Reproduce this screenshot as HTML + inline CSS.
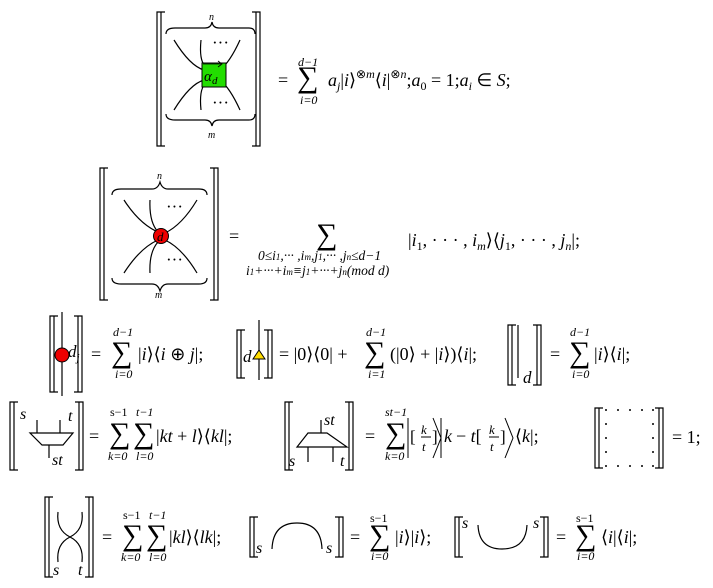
<!DOCTYPE html>
<html><head><meta charset="utf-8"><style>
html,body{margin:0;padding:0;background:#fff;}
svg{display:block;}
text{font-family:"Liberation Serif",serif;fill:#000;}
.i{font-style:italic;}
</style></head><body>
<svg width="713" height="588" viewBox="0 0 713 588" xmlns="http://www.w3.org/2000/svg">
<g stroke="#000" fill="none" stroke-width="1.2">
<path d="M165 12H157V146H165M161 12V146"/>
<path d="M252 12H260V146H252M256 12V146"/>
<path d="M166 34Q166 28 175 28H205Q211 28 212 22Q213 28 219 28H249Q255 28 255 34"/>
<path d="M166 114Q166 120 175 120H205Q211 120 212 126Q213 120 219 120H249Q255 120 255 114"/>
<path d="M174 40Q190 66 204 70M201 40Q199 60 205 66M240 40Q230 62 220 70"/>
<path d="M174 110Q190 84 204 80M201 110Q199 90 205 84M240 110Q230 88 220 80"/>
<path d="M108 168H100V300H108M104 168V300"/>
<path d="M210 168H218V300H210M214 168V300"/>
<path d="M112 195Q112 189 121 189H152Q158 189 160 182Q162 189 168 189H199Q207 189 207 195"/>
<path d="M112 278Q112 284 121 284H152Q158 284 160 291Q162 284 168 284H199Q207 284 207 278"/>
<path d="M124 200Q140 225 160 233M150 200Q149 222 158 232M197 200Q182 225 165 233"/>
<path d="M124 273Q140 248 158 240M150 273Q149 252 158 242M197 273Q182 248 165 240"/>
<path d="M58 316H50V392H58M54 316V392"/>
<path d="M74 316H82V392H74M78 316V392"/>
<path d="M62 312V396"/>
<path d="M245 330H237V378H245M241 330V378"/>
<path d="M264 330H272V378H264M268 330V378"/>
<path d="M259 320V380"/>
<path d="M516 325H508V385H516M512 325V385"/>
<path d="M533 325H541V385H533M537 325V385"/>
<path d="M518 325V378"/>
<path d="M18 402H10V470H18M14 402V470"/>
<path d="M75 402H83V470H75M79 402V470"/>
<path d="M30 433H73L63 445H42Z M37 420V433 M60 420V433 M49 445V458"/>
<path d="M293 402H285V470H293M289 402V470"/>
<path d="M345 402H353V470H345M349 402V470"/>
<path d="M308 433H327L347 447H297Z M321 420V433 M308 447V462 M333 447V462"/>
<path d="M603 408H595V468H603M599 408V468"/>
<path d="M655 408H663V468H655M659 408V468"/>
<path d="M53 497H45V577H53M49 497V577"/>
<path d="M85 497H93V577H85M89 497V577"/>
<path d="M58 512Q56 530 70 537Q84 530 82 512M58 562Q56 544 70 537Q84 544 82 562"/>
<path d="M258 517H250V557H258M254 517V557"/>
<path d="M335 517H343V557H335M339 517V557"/>
<path d="M272 549Q273 523 297 523Q321 523 322 549"/>
<path d="M463 517H455V557H463M459 517V557"/>
<path d="M540 517H548V557H540M544 517V557"/>
<path d="M478 525Q479 549 502 549Q526 549 527 525"/>
</g>
<rect x="202" y="63" width="24" height="24" fill="#22dd00" stroke="#000" stroke-width="1"/>
<text x="204" y="81" class="i" font-size="15">α</text><text x="212" y="84" class="i" font-size="11">d</text>
<path d="M203 64H221M218 61L222 64L218 67" stroke="#000" fill="none" stroke-width="0.8"/>
<circle cx="161" cy="236" r="7.5" fill="#ee0000" stroke="#000"/>
<text x="157" y="241" class="i" font-size="13">d</text>
<circle cx="62" cy="355" r="7" fill="#ee0000" stroke="#000"/>
<path d="M253 359L259 350L265 359Z" fill="#ffdd00" stroke="#000"/>
<g font-size="10" class="i">
<text x="209" y="20">n</text><text x="208" y="138">m</text>
<text x="157" y="179">n</text><text x="155" y="298">m</text>
</g>
<g font-size="17">
<text x="212" y="48">···</text><text x="212" y="108">···</text>
<text x="166" y="212">···</text><text x="166" y="265">···</text>
</g>
<text x="278" y="86" font-size="18">=</text>
<text x="297" y="87" font-size="30">∑</text>
<text x="298" y="66" font-size="12" class="i">d−1</text>
<text x="300" y="104" font-size="12" class="i">i=0</text>
<text x="328" y="86" font-size="18"><tspan class="i">a<tspan font-size="12" dy="4">j</tspan></tspan><tspan dy="-4">|</tspan><tspan class="i">i</tspan>⟩<tspan font-size="12" dy="-8">⊗<tspan class="i">m</tspan></tspan><tspan dy="8">⟨</tspan><tspan class="i">i</tspan>|<tspan font-size="12" dy="-8">⊗<tspan class="i">n</tspan></tspan><tspan dy="8">;</tspan><tspan class="i">a</tspan><tspan font-size="12" dy="4">0</tspan><tspan dy="-4"> = 1;</tspan><tspan class="i">a<tspan font-size="12" dy="4">i</tspan></tspan><tspan dy="-4"> ∈ </tspan><tspan class="i">S</tspan>;</text>
<text x="229" y="242" font-size="18">=</text>
<text x="316" y="244" font-size="30">∑</text>
<text x="258" y="260" font-size="13.5" class="i">0≤i<tspan font-size="9">1</tspan>,··· ,i<tspan font-size="9">m</tspan>,j<tspan font-size="9">1</tspan>,··· ,j<tspan font-size="9">n</tspan>≤d−1</text>
<text x="246" y="275" font-size="13.5" class="i">i<tspan font-size="9">1</tspan>+···+i<tspan font-size="9">m</tspan>≡j<tspan font-size="9">1</tspan>+···+j<tspan font-size="9">n</tspan>(mod d)</text>
<text x="408" y="246" font-size="18">|<tspan class="i">i</tspan><tspan font-size="12" dy="4">1</tspan><tspan dy="-4">, · · · , </tspan><tspan class="i">i</tspan><tspan font-size="12" class="i" dy="4">m</tspan><tspan dy="-4">⟩⟨</tspan><tspan class="i">j</tspan><tspan font-size="12" dy="4">1</tspan><tspan dy="-4">, · · · , </tspan><tspan class="i">j</tspan><tspan font-size="12" class="i" dy="4">n</tspan><tspan dy="-4">|;</tspan></text>
<text x="68" y="357" font-size="17" class="i">d<tspan font-size="11" dy="4">j</tspan></text>
<text x="91" y="360" font-size="18">=</text>
<text x="111" y="362" font-size="30">∑</text>
<text x="113" y="336" font-size="12" class="i">d−1</text>
<text x="115" y="378" font-size="12" class="i">i=0</text>
<text x="138" y="360" font-size="18">|<tspan class="i">i</tspan>⟩⟨<tspan class="i">i</tspan> ⊕ <tspan class="i">j</tspan>|;</text>
<text x="243" y="362" font-size="17" class="i">d</text>
<text x="279" y="360" font-size="18">= |0⟩⟨0| +</text>
<text x="364" y="362" font-size="30">∑</text>
<text x="366" y="336" font-size="12" class="i">d−1</text>
<text x="368" y="378" font-size="12" class="i">i=1</text>
<text x="390" y="360" font-size="18">(|0⟩ + |<tspan class="i">i</tspan>⟩)⟨<tspan class="i">i</tspan>|;</text>
<text x="523" y="383" font-size="17" class="i">d</text>
<text x="550" y="360" font-size="18">=</text>
<text x="569" y="362" font-size="30">∑</text>
<text x="570" y="336" font-size="12" class="i">d−1</text>
<text x="572" y="378" font-size="12" class="i">i=0</text>
<text x="594" y="360" font-size="18">|<tspan class="i">i</tspan>⟩⟨<tspan class="i">i</tspan>|;</text>
<text x="20" y="419" font-size="16" class="i">s</text>
<text x="68" y="421" font-size="16" class="i">t</text>
<text x="52" y="465" font-size="16" class="i">st</text>
<text x="89" y="442" font-size="18">=</text>
<text x="109" y="443" font-size="30">∑</text><text x="133" y="443" font-size="30">∑</text>
<text x="110" y="416" font-size="12">s−1</text><text x="136" y="416" font-size="12" class="i">t−1</text>
<text x="108" y="460" font-size="12" class="i">k=0</text><text x="136" y="460" font-size="12" class="i">l=0</text>
<text x="156" y="442" font-size="18">|<tspan class="i">kt</tspan> + <tspan class="i">l</tspan>⟩⟨<tspan class="i">kl</tspan>|;</text>
<text x="324" y="425" font-size="16" class="i">st</text>
<text x="289" y="466" font-size="16" class="i">s</text>
<text x="340" y="466" font-size="16" class="i">t</text>
<text x="365" y="442" font-size="18">=</text>
<text x="385" y="443" font-size="30">∑</text>
<text x="385" y="416" font-size="12" class="i">st−1</text>
<text x="385" y="460" font-size="12" class="i">k=0</text>
<g stroke="#000" fill="none" stroke-width="1">
<path d="M408 418V458M433 418L441 438L433 458M441 418V458M505 418L513 438L505 458"/>
<path d="M421 437H431M489 437H499"/>
</g>
<text x="410" y="442" font-size="17">[</text><text x="432" y="442" font-size="17">]</text>
<text x="421" y="434" font-size="13" class="i">k</text><text x="422" y="451" font-size="13" class="i">t</text>
<text x="444" y="442" font-size="18" class="i">k</text><text x="456" y="442" font-size="18">− <tspan class="i">t</tspan>[</text>
<text x="500" y="442" font-size="17">]</text>
<text x="489" y="434" font-size="13" class="i">k</text><text x="490" y="451" font-size="13" class="i">t</text>
<text x="515" y="442" font-size="18">⟨<tspan class="i">k</tspan>|;</text>
<g fill="#000">
<circle cx="606" cy="410" r="1"/><circle cx="618" cy="410" r="1"/><circle cx="630" cy="410" r="1"/><circle cx="642" cy="410" r="1"/><circle cx="653" cy="410" r="1"/>
<circle cx="606" cy="466" r="1"/><circle cx="618" cy="466" r="1"/><circle cx="630" cy="466" r="1"/><circle cx="642" cy="466" r="1"/><circle cx="653" cy="466" r="1"/>
<circle cx="606" cy="424" r="1"/><circle cx="606" cy="438" r="1"/><circle cx="606" cy="452" r="1"/>
<circle cx="653" cy="424" r="1"/><circle cx="653" cy="438" r="1"/><circle cx="653" cy="452" r="1"/>
</g>
<text x="672" y="443" font-size="18">= 1;</text>
<text x="53" y="575" font-size="16" class="i">s</text>
<text x="78" y="575" font-size="16" class="i">t</text>
<text x="102" y="543" font-size="18">=</text>
<text x="122" y="545" font-size="30">∑</text><text x="146" y="545" font-size="30">∑</text>
<text x="123" y="519" font-size="12">s−1</text><text x="149" y="519" font-size="12" class="i">t−1</text>
<text x="121" y="561" font-size="12" class="i">k=0</text><text x="149" y="561" font-size="12" class="i">l=0</text>
<text x="169" y="543" font-size="18">|<tspan class="i">kl</tspan>⟩⟨<tspan class="i">lk</tspan>|;</text>
<text x="256" y="553" font-size="16" class="i">s</text>
<text x="326" y="553" font-size="16" class="i">s</text>
<text x="350" y="543" font-size="18">=</text>
<text x="369" y="545" font-size="30">∑</text>
<text x="370" y="522" font-size="12">s−1</text>
<text x="371" y="560" font-size="12" class="i">i=0</text>
<text x="395" y="543" font-size="18">|<tspan class="i">i</tspan>⟩|<tspan class="i">i</tspan>⟩;</text>
<text x="462" y="528" font-size="16" class="i">s</text>
<text x="533" y="528" font-size="16" class="i">s</text>
<text x="556" y="543" font-size="18">=</text>
<text x="575" y="545" font-size="30">∑</text>
<text x="576" y="522" font-size="12">s−1</text>
<text x="577" y="560" font-size="12" class="i">i=0</text>
<text x="601" y="543" font-size="18">⟨<tspan class="i">i</tspan>|⟨<tspan class="i">i</tspan>|;</text>
</svg>
</body></html>
